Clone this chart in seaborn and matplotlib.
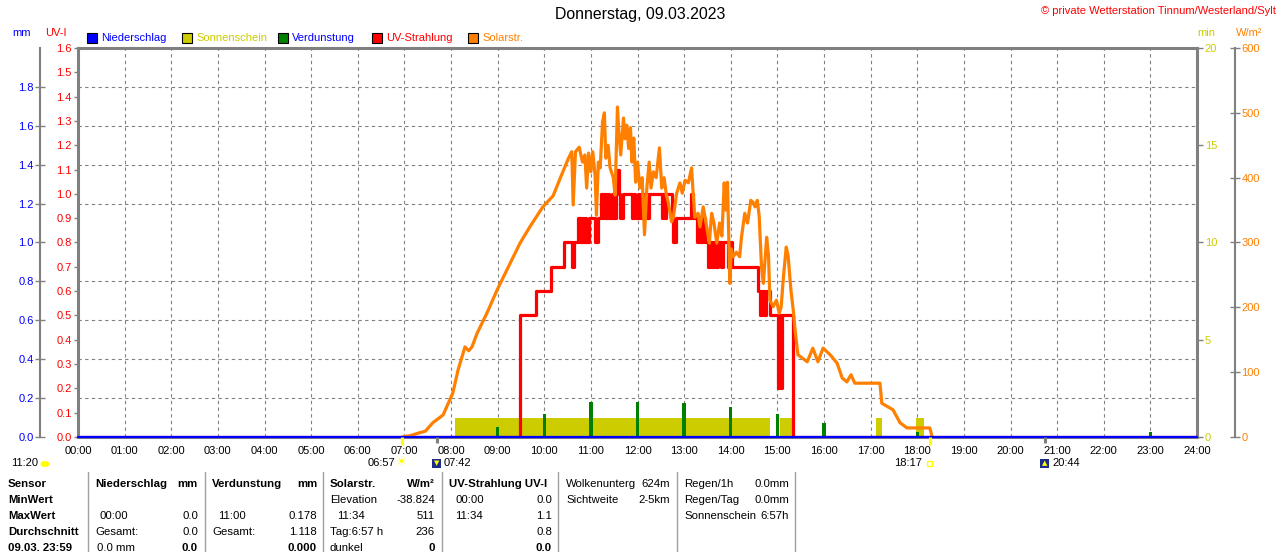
import matplotlib
matplotlib.use("Agg")
import matplotlib.pyplot as plt
import matplotlib.transforms as mtransforms
from matplotlib.patches import Rectangle, Ellipse
from matplotlib.lines import Line2D
import numpy as np
import seaborn as sns

sns.set_style("white")
plt.rcParams['font.family'] = ['Liberation Sans', 'DejaVu Sans']

# ---------------- data ----------------
solar_time = [6.95, 7.12, 7.30, 7.45, 7.61, 7.83, 8.04, 8.15, 8.30, 8.38, 8.45, 8.56, 8.77, 8.99,
              9.20, 9.48, 9.69, 9.97, 10.19, 10.37, 10.52, 10.59, 10.62, 10.67, 10.75, 10.82,
              10.87, 10.91, 10.95, 11.00, 11.04, 11.09, 11.12, 11.16, 11.20, 11.25, 11.29, 11.32,
              11.37, 11.41, 11.48, 11.52, 11.57, 11.60, 11.64, 11.70, 11.73, 11.77, 11.81, 11.85,
              11.88, 11.92, 11.96, 12.00, 12.05, 12.10, 12.15, 12.20, 12.25, 12.29, 12.34, 12.40,
              12.47, 12.52, 12.57, 12.62, 12.66, 12.73, 12.77, 12.84, 12.91, 12.96, 13.02, 13.09,
              13.16, 13.19, 13.23, 13.30, 13.34, 13.41, 13.47, 13.54, 13.59, 13.64, 13.70, 13.76,
              13.81, 13.86, 13.89, 13.93, 13.96, 13.98, 14.01, 14.05, 14.12, 14.19, 14.23, 14.30,
              14.36, 14.43, 14.48, 14.52, 14.57, 14.61, 14.66, 14.70, 14.77, 14.81, 14.84, 14.91,
              14.98, 15.04, 15.08, 15.13, 15.19, 15.23, 15.29, 15.34, 15.38, 15.44, 15.64, 15.76,
              15.87, 15.98, 16.13, 16.28, 16.39, 16.49, 16.58, 16.66, 17.20, 17.24, 17.48, 17.63,
              17.78, 18.27, 18.32]
solar_wm2 = [0, 2, 6, 9, 22, 34, 68, 103, 139, 133, 139, 160, 191, 227,
             258, 299, 324, 355, 372, 404, 430, 440, 358, 440, 447, 424,
             435, 384, 438, 409, 440, 404, 342, 424, 415, 486, 500, 430,
             450, 416, 400, 373, 509, 470, 435, 492, 460, 481, 445, 477,
             424, 461, 393, 424, 384, 400, 312, 384, 424, 384, 409, 400,
             446, 384, 400, 373, 362, 332, 339, 376, 392, 376, 396, 392,
             415, 380, 339, 345, 324, 355, 330, 299, 345, 330, 299, 330,
             310, 392, 350, 393, 300, 237, 290, 278, 285, 278, 308, 345,
             330, 365, 362, 355, 365, 340, 262, 237, 308, 280, 211, 201,
             211, 191, 200, 247, 293, 280, 227, 196, 165, 127, 116, 137,
             116, 137, 127, 114, 91, 85, 96, 83, 83, 52, 42, 22,
             14, 14, 0]

uv_time = [0.0, 9.48, 9.82, 10.15, 10.42, 10.59, 10.63, 10.73, 10.76, 10.80, 10.83, 10.87, 10.90,
           10.95, 11.09, 11.16, 11.21, 11.24, 11.27, 11.31, 11.34, 11.38, 11.45, 11.48, 11.53,
           11.60, 11.62, 11.68, 11.88, 11.92, 11.95, 12.00, 12.03, 12.08, 12.12, 12.17, 12.20,
           12.25, 12.52, 12.55, 12.58, 12.62, 12.74, 12.76, 12.83, 13.15, 13.20, 13.27, 13.30,
           13.35, 13.40, 13.44, 13.52, 13.56, 13.60, 13.64, 13.68, 13.72, 13.80, 13.84, 13.94,
           13.98, 14.02, 14.59, 14.63, 14.67, 14.72, 14.76, 14.84, 15.01, 15.04, 15.07, 15.10,
           15.34, 24.0]
uv_index = [0.0, 0.5, 0.6, 0.7, 0.8, 0.7, 0.8, 0.9, 0.8, 0.9, 0.8, 0.9, 0.8,
            0.9, 0.8, 0.9, 1.0, 0.9, 1.0, 0.9, 1.0, 0.9, 1.0, 0.9, 1.1,
            1.0, 0.9, 1.0, 0.9, 1.0, 0.9, 1.0, 0.9, 1.0, 0.9, 1.0, 0.9,
            1.0, 0.9, 1.0, 0.9, 1.0, 0.9, 0.8, 0.9, 1.0, 0.9, 0.8, 0.9,
            0.8, 0.9, 0.8, 0.7, 0.8, 0.7, 0.8, 0.7, 0.8, 0.7, 0.8, 0.7,
            0.8, 0.7, 0.6, 0.5, 0.6, 0.5, 0.6, 0.5, 0.2, 0.5, 0.2, 0.5,
            0.0, 0.0]

evap_time = [9, 10, 11, 12, 13, 14, 15, 16, 18, 23]
evap_mm = [0.05, 0.12, 0.178, 0.178, 0.175, 0.155, 0.12, 0.07, 0.025, 0.025]

sun_start = [8.09, 15.06, 17.12, 17.97]
sun_end = [14.84, 15.34, 17.25, 18.15]
sun_min = [1.0, 1.0, 1.0, 1.0]

rain_time = [0, 24]
rain_mm = [0.0, 0.0]

hour_ticks = list(range(25))
hour_labels = ["00:00", "01:00", "02:00", "03:00", "04:00", "05:00", "06:00", "07:00", "08:00",
               "09:00", "10:00", "11:00", "12:00", "13:00", "14:00", "15:00", "16:00", "17:00",
               "18:00", "19:00", "20:00", "21:00", "22:00", "23:00", "24:00"]
uv_ticks = [0.0, 0.1, 0.2, 0.3, 0.4, 0.5, 0.6, 0.7, 0.8, 0.9, 1.0, 1.1, 1.2, 1.3, 1.4, 1.5, 1.6]
mm_ticks = [0.0, 0.2, 0.4, 0.6, 0.8, 1.0, 1.2, 1.4, 1.6, 1.8]
min_ticks = [0, 5, 10, 15, 20]
wm2_ticks = [0, 100, 200, 300, 400, 500, 600]

sun_events = [6.95, 18.283]
moon_events = [7.70, 20.733]

# ---------------- figure ----------------
W, H = 1280, 552
fig = plt.figure(figsize=(W / 100, H / 100), dpi=100)
fig.patch.set_facecolor("white")

def fx(px):
    return px / W

def fy(py):
    return 1 - py / H

L, R, T, B = 78, 1197, 48, 437
rect = [fx(L), fy(B), fx(R) - fx(L), fy(T) - fy(B)]

GRAY = "#808080"
BLUE = "#0000FF"
RED = "#FF0000"
ORANGE = "#FF8000"
YEL = "#CCCC00"
GREEN = "#008000"
FS = 8

ax = fig.add_axes(rect)
ax.set_facecolor("white")
ax.set_xlim(0, 24)
ax.set_ylim(0, 1.6)
ax.set_xticks(hour_ticks)
ax.set_xticklabels(hour_labels, fontsize=FS, color="black")
ax.set_yticks(uv_ticks)
ax.set_yticklabels([f"{v:.1f}" for v in uv_ticks], fontsize=FS, color=RED)
ax.set_yticks([m * 0.8 for m in mm_ticks[1:]], minor=True)
ax.tick_params(axis="y", which="minor", length=0)
ax.tick_params(axis="y", which="major", direction="out", length=3, width=1, color=GRAY, pad=1.5)
ax.tick_params(axis="x", which="major", direction="out", length=2.5, width=1, color=GRAY, pad=4)
ax.grid(False)
ax.grid(axis="x", which="major", linestyle=(0, (3, 3)), color=GRAY, linewidth=0.8)
ax.grid(axis="y", which="minor", linestyle=(0, (3, 3)), color=GRAY, linewidth=0.8)
for s in ax.spines.values():
    s.set_color(GRAY)
    s.set_linewidth(2.2)

# sunshine axis
ax_min = ax.twinx()
ax_min.bar(sun_start, sun_min, width=np.subtract(sun_end, sun_start), align="edge",
           color=YEL, linewidth=0)
ax_min.set_ylim(0, 20)
ax_min.set_yticks(min_ticks)
ax_min.set_yticklabels([str(v) for v in min_ticks], fontsize=FS, color=YEL)
ax_min.tick_params(axis="y", direction="out", length=4, width=1, color=GRAY, pad=1.5)
for s in ax_min.spines.values():
    s.set_visible(False)

# UV data axis (drawn below the solar curve)
ax_uv = ax.twinx()
sns.lineplot(x=uv_time, y=uv_index, ax=ax_uv, color=RED, linewidth=2.3,
             sort=False, estimator=None, drawstyle="steps-post")
ax_uv.set_ylim(0, 1.6)
ax_uv.set_yticks([])
for s in ax_uv.spines.values():
    s.set_visible(False)

# solar radiation axis
ax_w = ax.twinx()
for k, s in ax_w.spines.items():
    s.set_visible(k == "right")
ax_w.spines["right"].set_position(("axes", (1235 - L) / (R - L)))
ax_w.spines["right"].set_color(GRAY)
ax_w.spines["right"].set_linewidth(1.5)
sns.lineplot(x=solar_time, y=solar_wm2, ax=ax_w, color=ORANGE, linewidth=2.3,
             sort=False, estimator=None)
ax_w.set_ylim(0, 600)
ax_w.set_yticks(wm2_ticks)
ax_w.set_yticklabels([str(v) for v in wm2_ticks], fontsize=FS, color=ORANGE)
ax_w.tick_params(axis="y", direction="inout", length=7, width=1, color=GRAY, pad=1)

# mm axis
ax_mm = ax.twinx()
for k, s in ax_mm.spines.items():
    s.set_visible(k == "left")
ax_mm.spines["left"].set_position(("axes", (40 - L) / (R - L)))
ax_mm.spines["left"].set_color(GRAY)
ax_mm.spines["left"].set_linewidth(1.5)
ax_mm.bar(evap_time, evap_mm, width=0.07, color=GREEN, linewidth=0)
sns.lineplot(x=rain_time, y=rain_mm, ax=ax_mm, color=BLUE, linewidth=1.6,
             sort=False, estimator=None, clip_on=False)
ax_mm.set_ylim(0, 2.0)
ax_mm.yaxis.set_ticks_position("left")
ax_mm.yaxis.set_label_position("left")
ax_mm.set_yticks(mm_ticks)
ax_mm.set_yticklabels([f"{v:.1f}" for v in mm_ticks], fontsize=FS, color=BLUE)
ax_mm.tick_params(axis="y", direction="inout", length=7, width=1, color=GRAY, pad=1)

for a in (ax, ax_min, ax_w, ax_uv, ax_mm):
    a.set_xlim(0, 24)
    a.set_xlabel("")
    a.set_ylabel("")

# sun / moon markers on the time axis
trans = mtransforms.blended_transform_factory(ax_mm.transData, ax_mm.transAxes)
ax_mm.vlines(sun_events, -0.021, 0.0, transform=trans, colors="#FFFF00", linewidth=2.2, clip_on=False)
ax_mm.vlines(moon_events, -0.016, 0.0, transform=trans, colors=GRAY, linewidth=2.2, clip_on=False)

# ---------------- texts ----------------
fig.text(0.5, fy(15), "Donnerstag, 09.03.2023", ha="center", va="center", fontsize=11.4, color="black")
fig.text(fx(1276), fy(11), "\u00a9 private Wetterstation Tinnum/Westerland/Sylt", ha="right", va="center",
         fontsize=FS, color=RED)

fig.text(fx(22), fy(33), "mm", ha="center", va="center", fontsize=FS, color=BLUE)
fig.text(fx(56), fy(33), "UV-I", ha="center", va="center", fontsize=FS, color=RED)
fig.text(fx(1206), fy(33), "min", ha="center", va="center", fontsize=FS, color=YEL)
fig.text(fx(1249), fy(33), "W/m\u00b2", ha="center", va="center", fontsize=FS, color=ORANGE)

legend_items = [(87, BLUE, "Niederschlag", BLUE), (182, YEL, "Sonnenschein", YEL),
                (278, GREEN, "Verdunstung", BLUE), (372, RED, "UV-Strahlung", RED),
                (468, ORANGE, "Solarstr.", ORANGE)]
for x0, fc, txt, tc in legend_items:
    fig.patches.append(Rectangle((fx(x0), fy(43)), fx(10), 10 / H, transform=fig.transFigure,
                                 facecolor=fc, edgecolor="black", linewidth=0.8))
    fig.text(fx(x0 + 14), fy(38), txt, ha="left", va="center", fontsize=FS, color=tc)

# second line under the time axis
fig.text(fx(11), fy(463), "11:20", ha="left", va="center", fontsize=FS, color="black")
fig.patches.append(Ellipse((fx(45), fy(464)), fx(9), 6 / H, transform=fig.transFigure,
                           facecolor="#FFFF00", edgecolor="none"))
fig.text(fx(395), fy(463), "06:57", ha="right", va="center", fontsize=FS, color="black")
fig.text(fx(402), fy(463), "\u2600", ha="center", va="center", fontsize=9, color="#FFFF00",
         family="DejaVu Sans")
fig.patches.append(Rectangle((fx(432), fy(468)), fx(9), 9 / H, transform=fig.transFigure,
                             facecolor="#1C2C8C", edgecolor="none"))
fig.text(fx(436.5), fy(463), "\u25bc", ha="center", va="center", fontsize=5, color="#FFFF00",
         family="DejaVu Sans")
fig.text(fx(444), fy(463), "07:42", ha="left", va="center", fontsize=FS, color="black")
fig.text(fx(922), fy(463), "18:17", ha="right", va="center", fontsize=FS, color="black")
fig.patches.append(Rectangle((fx(927), fy(466)), fx(5), 5 / H, transform=fig.transFigure,
                             facecolor="white", edgecolor="#FFFF00", linewidth=1))
fig.patches.append(Rectangle((fx(1040), fy(468)), fx(9), 9 / H, transform=fig.transFigure,
                             facecolor="#1C2C8C", edgecolor="none"))
fig.text(fx(1044.5), fy(463), "\u25b2", ha="center", va="center", fontsize=5, color="#FFFF00",
         family="DejaVu Sans")
fig.text(fx(1052), fy(463), "20:44", ha="left", va="center", fontsize=FS, color="black")

# ---------------- table ----------------
for xs in [88, 205, 323, 442, 558, 677, 795]:
    fig.add_artist(Line2D([fx(xs), fx(xs)], [fy(472), fy(552)], color="#A0A0A0", linewidth=1))

rows_y = [484, 500, 516, 532, 548]
TFS = 8.2

def t(x, row, s, ha="left", bold=False):
    fig.text(fx(x), fy(rows_y[row]), s, ha=ha, va="center", fontsize=TFS, color="black",
             fontweight="bold" if bold else "normal")

for i, s in enumerate(["Sensor", "MinWert", "MaxWert", "Durchschnitt", "09.03. 23:59"]):
    t(8, i, s, bold=True)

t(95, 0, "Niederschlag", bold=True); t(198, 0, "mm", "right", True)
t(100, 2, "00:00"); t(198, 2, "0.0", "right")
t(95, 3, "Gesamt:"); t(198, 3, "0.0", "right")
t(97, 4, "0.0 mm"); t(198, 4, "0.0", "right", True)

t(212, 0, "Verdunstung", bold=True); t(317, 0, "mm", "right", True)
t(218, 2, "11:00"); t(317, 2, "0.178", "right")
t(212, 3, "Gesamt:"); t(317, 3, "1.118", "right")
t(317, 4, "0.000", "right", True)

t(330, 0, "Solarstr.", bold=True); t(435, 0, "W/m\u00b2", "right", True)
t(330, 1, "Elevation"); t(435, 1, "-38.824", "right")
t(337, 2, "11:34"); t(435, 2, "511", "right")
t(330, 3, "Tag:6:57 h"); t(435, 3, "236", "right")
t(330, 4, "dunkel"); t(435, 4, "0", "right", True)

t(449, 0, "UV-Strahlung UV-I", bold=True)
t(455, 1, "00:00"); t(552, 1, "0.0", "right")
t(455, 2, "11:34"); t(552, 2, "1.1", "right")
t(552, 3, "0.8", "right")
t(552, 4, "0.0", "right", True)

t(566, 0, "Wolkenunterg"); t(670, 0, "624m", "right")
t(566, 1, "Sichtweite"); t(670, 1, "2-5km", "right")

t(684, 0, "Regen/1h"); t(789, 0, "0.0mm", "right")
t(684, 1, "Regen/Tag"); t(789, 1, "0.0mm", "right")
t(684, 2, "Sonnenschein"); t(789, 2, "6:57h", "right")

fig.savefig("out.png", dpi=100)
